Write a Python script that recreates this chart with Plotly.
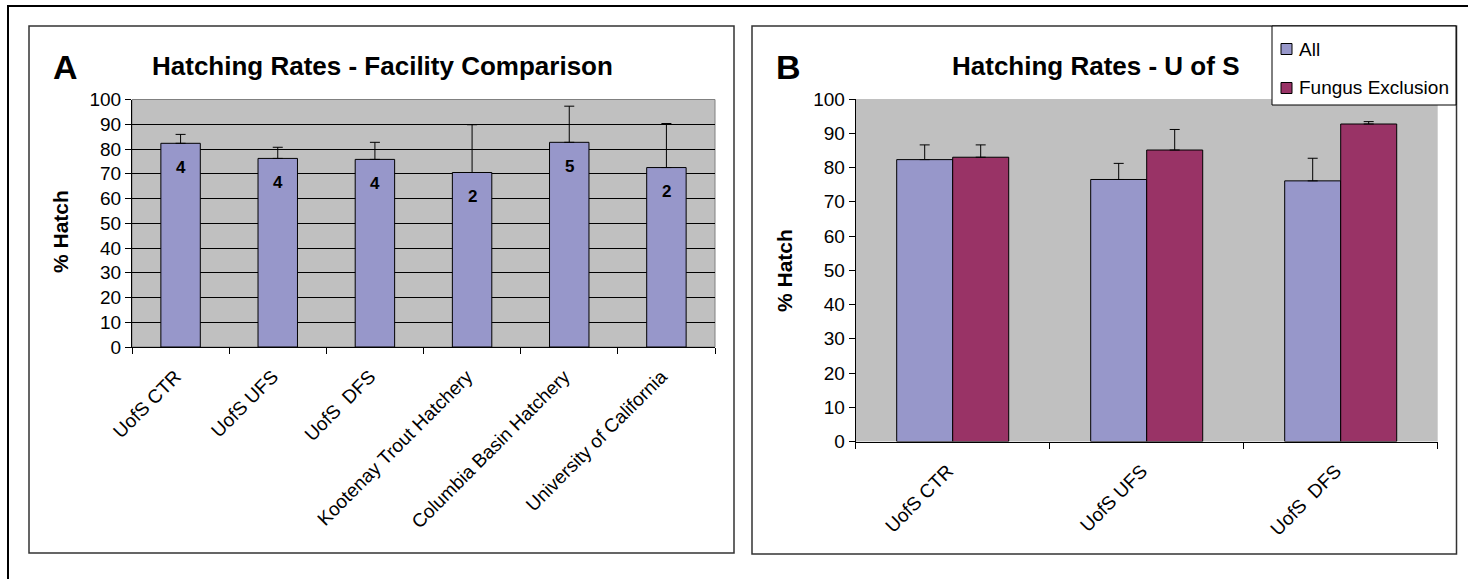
import plotly.graph_objects as go

# ---------------- data ----------------
cats_a = ["UofS CTR", "UofS UFS", "UofS\u00a0 DFS", "Kootenay Trout Hatchery",
          "Columbia Basin Hatchery", "University of California"]
hatch_a = [82.3, 76.2, 75.8, 70.5, 82.7, 72.5]
err_a = [3.6, 4.5, 6.9, 19.3, 14.6, 17.8]
n_a = [4, 4, 4, 2, 5, 2]

cats_b = ["UofS CTR", "UofS UFS", "UofS\u00a0 DFS"]
series_b = ["All", "Fungus Exclusion"]
hatch_b_all = [82.3, 76.5, 76.1]
err_b_all = [4.3, 4.7, 6.6]
hatch_b_fung = [83.0, 85.1, 92.7]
err_b_fung = [3.6, 6.0, 0.7]

y_ticks = list(range(0, 101, 10))

# ---------------- styling ----------------
W, H = 1468, 579
FONT = "Liberation Sans, Arial, sans-serif"
BLUE = "#9797CA"
PLUM = "#993366"
BG = "#C0C0C0"


def px(x):
    return x / W


def py(y):
    return 1 - y / H


fig = go.Figure()

# Panel A bars
fig.add_trace(go.Bar(
    x=cats_a, y=hatch_a, xaxis="x", yaxis="y", name="All",
    marker=dict(color=BLUE, line=dict(color="black", width=1)),
    width=0.406, offset=-0.203, showlegend=False,
    error_y=dict(type="data", symmetric=False, array=err_a,
                 arrayminus=[0] * len(err_a), color="black", thickness=1, width=5),
))

# Panel B bars
b_colors = [BLUE, PLUM]
for name, vals, errs, col, off in zip(series_b, [hatch_b_all, hatch_b_fung],
                                      [err_b_all, err_b_fung], b_colors, [-0.2887, 0.0]):
    fig.add_trace(go.Bar(
        x=cats_b, y=vals, xaxis="x2", yaxis="y2", name=name,
        marker=dict(color=col, line=dict(color="black", width=1)),
        width=0.2887, offset=off, showlegend=False,
        error_y=dict(type="data", symmetric=False, array=errs,
                     arrayminus=[0] * len(errs), color="black", thickness=1, width=5),
    ))

tickfont = dict(family=FONT, size=19, color="black")

xcommon = dict(type="category", tickson="boundaries", ticks="outside", ticklen=6,
               tickcolor="black", showline=True, linecolor="black", linewidth=1,
               tickangle=-45, tickfont=tickfont, automargin=False, showgrid=False,
               ticklabelstandoff=10, ticklabelshift=-5)
ycommon = dict(range=[0, 100], tickvals=y_ticks, ticks="outside", ticklen=6,
               tickcolor="black", showline=True, linecolor="black", linewidth=1,
               tickfont=tickfont, automargin=False, zeroline=False)

fig.update_layout(
    width=W, height=H, autosize=False,
    margin=dict(l=0, r=0, t=0, b=0),
    paper_bgcolor="white", plot_bgcolor=BG,
    barmode="group", showlegend=False,
    xaxis=dict(domain=[px(132), px(715)], anchor="y", **xcommon),
    yaxis=dict(domain=[py(347), py(99.5)], anchor="x", showgrid=True,
               gridcolor="black", gridwidth=1, **ycommon),
    xaxis2=dict(domain=[px(855.7), px(1437.7)], anchor="y2", **xcommon),
    yaxis2=dict(domain=[py(441.5), py(99)], anchor="x2", showgrid=False, **ycommon),
    font=dict(family=FONT, color="black"),
)

shapes = [
    # outer frame
    dict(type="rect", xref="paper", yref="paper", x0=px(8), y0=-0.05, x1=1.05, y1=py(6),
         line=dict(color="black", width=2), fillcolor="rgba(0,0,0,0)", layer="below"),
    # panel A box
    dict(type="rect", xref="paper", yref="paper", x0=px(29), y0=py(553), x1=px(734), y1=py(26),
         line=dict(color="#333333", width=1.5), layer="below"),
    # panel B box
    dict(type="rect", xref="paper", yref="paper", x0=px(752), y0=py(554), x1=px(1456.5), y1=py(26),
         line=dict(color="#333333", width=1.5), layer="below"),
    # panel A plot-area border
    dict(type="rect", xref="x domain", yref="y domain", x0=0, y0=0, x1=1, y1=1,
         line=dict(color="#808080", width=1), layer="below"),
    # legend box (panel B)
    dict(type="rect", xref="paper", yref="paper", x0=px(1272), y0=py(105), x1=px(1456), y1=py(26),
         line=dict(color="black", width=1), fillcolor="white", layer="above"),
]
leg_y = [49, 88]
for col, ly in zip(b_colors, leg_y):
    shapes.append(dict(type="rect", xref="paper", yref="paper",
                       x0=px(1281), x1=px(1292), y0=py(ly + 5.5), y1=py(ly - 5.5),
                       line=dict(color="black", width=1), fillcolor=col, layer="above"))
fig.update_layout(shapes=shapes)


def pann(text, x, y, size, angle=0, xanchor="center"):
    return dict(text=text, x=px(x), y=py(y), xref="paper", yref="paper", showarrow=False,
                xanchor=xanchor, yanchor="middle", textangle=angle,
                font=dict(family=FONT, size=size, color="black"))


ann = [
    pann("<b>A</b>", 65, 67, 34),
    pann("<b>Hatching Rates - Facility Comparison</b>", 382, 66, 26),
    pann("<b>B</b>", 788, 67, 34),
    pann("<b>Hatching Rates - U of S</b>", 1095, 66, 26),
    pann("<b>% Hatch</b>", 61, 232, 21, angle=-90),
    pann("<b>% Hatch</b>", 784, 271, 21, angle=-90),
]
for name, ly in zip(series_b, leg_y):
    ann.append(pann(name, 1297, ly, 19, xanchor="left"))
for c, v, n in zip(cats_a, hatch_a, n_a):
    ann.append(dict(text=f"<b>{n}</b>", x=c, y=v, xref="x", yref="y", yshift=-24,
                    showarrow=False, xanchor="center", yanchor="middle",
                    font=dict(family=FONT, size=17, color="black")))
fig.update_layout(annotations=ann)

fig.write_html(
    "out.html",
    config={"displayModeBar": False},
    post_script="document.body.style.margin='0px';document.body.style.overflow='hidden';",
)
